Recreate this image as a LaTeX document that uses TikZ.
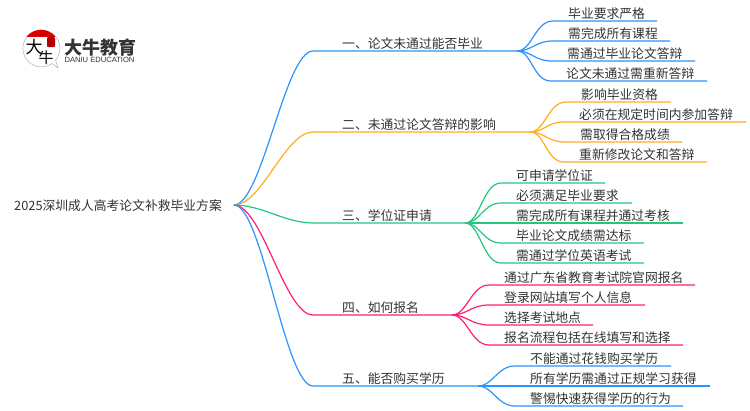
\documentclass[tikz,border=0pt]{standalone}
\usepackage{fontspec}
\setmainfont{Noto Sans CJK SC}
\newfontfamily\latinf{Liberation Sans}
\usetikzlibrary{calc}
\definecolor{cblue}{HTML}{2A95FF}
\definecolor{corange}{HTML}{FFAE1F}
\definecolor{cgreen}{HTML}{22C77D}
\definecolor{cpink}{HTML}{FF1F77}
\definecolor{ctext}{HTML}{333333}
\tikzset{
  lab/.style={inner sep=0pt,anchor=west,text=ctext,font=\fontsize{12.8pt}{13pt}\selectfont},
  conn/.style={line width=1.2pt},
}
\newcommand{\leafnode}[7]{% name, hub, y, xstart, xend, text, colour
  \coordinate (#1s) at (#4,#3);
  \coordinate (#1e) at (#5,#3);
  \node[lab] (#1) at (#4+15,#3-7.5) {#6};
  \draw[conn,#7] (#2) .. controls ($(#2)+(15,0)$) and ($(#1s)+(-18,0)$) .. (#1s) -- (#1e);
}
\begin{document}
\begin{tikzpicture}[x=1pt,y=-1pt]
\useasboundingbox (0,0) rectangle (750,410);
\fill[white] (0,0) rectangle (750,410);
% logo
\draw[black!30,line width=.5pt,fill=white] (58,68) -- (52,63.5) arc[start angle=55,end angle=400,radius=18.5] -- cycle;
\begin{scope}
\clip (20,28) rectangle (62,36);
\fill[red!85!black] (41,48.3) circle (18.5);
\end{scope}
\fill[red!70!black,rounded corners=1pt] (47,37) rectangle (55,47);
\node[inner sep=0pt,text=black] (logoa) at (34,47) {\fontsize{17pt}{17pt}\selectfont 大};
\node[inner sep=0pt,text=black] (logob) at (46,58) {\fontsize{15pt}{15pt}\selectfont 牛};
\node[inner sep=0pt,text=ctext] (logoc) at (100,48) {\fontsize{18pt}{18pt}\selectfont\bfseries 大牛教育};
\node[inner sep=0pt,text=ctext] (logod) at (99.5,60) {\latinf\fontsize{7.6pt}{8pt}\selectfont DANIU EDUCATION};
% root
\node[lab] (root) at (14,205.5) {2025深圳成人高考论文补救毕业方案};
\coordinate (hub0) at (234,205);
% branches
\coordinate (h1) at (517,51);
\coordinate (h2) at (530,132);
\coordinate (h3) at (465,223);
\coordinate (h4) at (452,315);
\coordinate (h5) at (478,386);
\coordinate (b1) at (313,51);
\coordinate (b2) at (313,132);
\coordinate (b3) at (313,223);
\coordinate (b4) at (313,315);
\coordinate (b5) at (313,386);
\draw[conn,cblue] (hub0) .. controls (262,205) and (285,51) .. (b1) -- (h1);
\draw[conn,corange] (hub0) .. controls (262,205) and (285,132) .. (b2) -- (h2);
\draw[conn,cgreen] (hub0) .. controls (262,205) and (285,223) .. (b3) -- (h3);
\draw[conn,cpink] (hub0) .. controls (262,205) and (285,315) .. (b4) -- (h4);
\draw[conn,cblue] (hub0) .. controls (262,205) and (285,386) .. (b5) -- (h5);
\node[lab] (n1) at (342,43.5) {一、论文未通过能否毕业};
\node[lab] (n2) at (342,124.5) {二、未通过论文答辩的影响};
\node[lab] (n3) at (342,215.5) {三、学位证申请};
\node[lab] (n4) at (342,307.5) {四、如何报名};
\node[lab] (n5) at (342,378.5) {五、能否购买学历};
% leaves 1
\leafnode{a1}{h1}{21}{553}{657}{毕业要求严格}{cblue}
\leafnode{a2}{h1}{41}{553}{670}{需完成所有课程}{cblue}
\leafnode{a3}{h1}{61}{552}{695}{需通过毕业论文答辩}{cblue}
\leafnode{a4}{h1}{81}{551}{707}{论文未通过需重新答辩}{cblue}
% leaves 2
\leafnode{c1}{h2}{102}{566}{671}{影响毕业资格}{corange}
\leafnode{c2}{h2}{122}{564}{746}{必须在规定时间内参加答辩}{corange}
\leafnode{c3}{h2}{142}{565}{682}{需取得合格成绩}{corange}
\leafnode{c4}{h2}{162}{564}{707}{重新修改论文和答辩}{corange}
% leaves 3
\leafnode{d1}{h3}{183}{501}{605}{可申请学位证}{cgreen}
\leafnode{d2}{h3}{203}{501}{632}{必须满足毕业要求}{cgreen}
\leafnode{d3}{h3}{223}{501}{683}{需完成所有课程并通过考核}{cgreen}
\leafnode{d4}{h3}{243}{501}{644}{毕业论文成绩需达标}{cgreen}
\leafnode{d5}{h3}{263}{501}{644}{需通过学位英语考试}{cgreen}
% leaves 4
\leafnode{e1}{h4}{285}{489}{695}{通过广东省教育考试院官网报名}{cpink}
\leafnode{e2}{h4}{305}{489}{645}{登录网站填写个人信息}{cpink}
\leafnode{e3}{h4}{325}{489}{593}{选择考试地点}{cpink}
\leafnode{e4}{h4}{345}{489}{683}{报名流程包括在线填写和选择}{cpink}
% leaves 5
\leafnode{f1}{h5}{366}{515}{671}{不能通过花钱购买学历}{cblue}
\leafnode{f2}{h5}{386}{515}{710}{所有学历需通过正规学习获得}{cblue}
\leafnode{f3}{h5}{406}{515}{683}{警惕快速获得学历的行为}{cblue}
\end{tikzpicture}
\end{document}
